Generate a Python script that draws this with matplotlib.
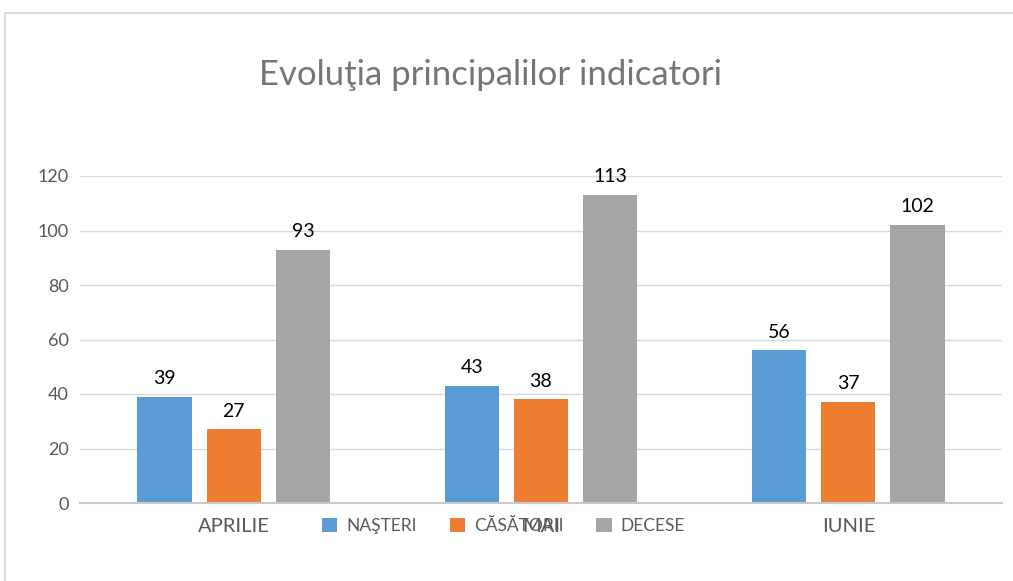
import numpy as np
import matplotlib.pyplot as plt
from matplotlib.patches import Rectangle

# data
luni = ["APRILIE", "MAI", "IUNIE"]
serii = ["NAŞTERI", "CĂSĂTORII", "DECESE"]
nasteri = [39, 43, 56]
casatorii = [27, 38, 37]
decese = [93, 113, 102]
culori = ["#5b9bd5", "#ed7d31", "#a5a5a5"]

plt.rcParams["font.family"] = ["Lato", "DejaVu Sans"]

fig = plt.figure(figsize=(10.13, 5.81), dpi=100)
ax = fig.add_axes([80 / 1013, 1 - 503 / 581, 922 / 1013, 327 / 581])

x = np.arange(len(luni))
w = 0.176
step = 0.225
for i, (vals, nume) in enumerate(zip([nasteri, casatorii, decese], serii)):
    bars = ax.bar(x + (i - 1) * step, vals, w, color=culori[i], label=nume, zorder=3)
    for b, v in zip(bars, vals):
        ax.annotate(str(v), (b.get_x() + b.get_width() / 2, v), xytext=(0, 7),
                    textcoords="offset points", ha="center", va="bottom",
                    fontsize=14, color="black")

ax.set_xlim(-0.5, 2.5)
ax.set_ylim(0, 120)
ax.set_yticks(range(0, 121, 20))
ax.set_xticks(x)
ax.set_xticklabels(luni, fontsize=14.5)
ax.grid(axis="y", color="#d9d9d9", linewidth=1, zorder=0)
for s in ["top", "right", "left"]:
    ax.spines[s].set_visible(False)
ax.spines["bottom"].set_color("#c8c8c8")
ax.spines["bottom"].set_linewidth(1.5)
ax.spines["bottom"].set_zorder(4)
ax.tick_params(axis="both", length=0, labelcolor="#595959")
ax.tick_params(axis="y", pad=8, labelsize=13)
ax.tick_params(axis="x", pad=11)

fig.text(0.484, 1 - 75 / 581, "Evoluţia principalilor indicatori", ha="center",
         va="center", fontsize=25, color="#757575")

leg = fig.legend(loc="center", bbox_to_anchor=(0.497, 1 - 526 / 581), ncol=3,
                 frameon=False, fontsize=12.5, handlelength=0.9, handleheight=0.9,
                 handletextpad=0.5, columnspacing=1.9)
for t in leg.get_texts():
    t.set_color("#595959")

# chart frame (partly cropped in the source)
fig.patches.append(Rectangle((5 / 1013, -0.1), 1.2, 1.1 - 13 / 581,
                             transform=fig.transFigure, fill=False,
                             edgecolor="#d0d5dc", linewidth=1.2))

fig.savefig("out.png", dpi=100)
